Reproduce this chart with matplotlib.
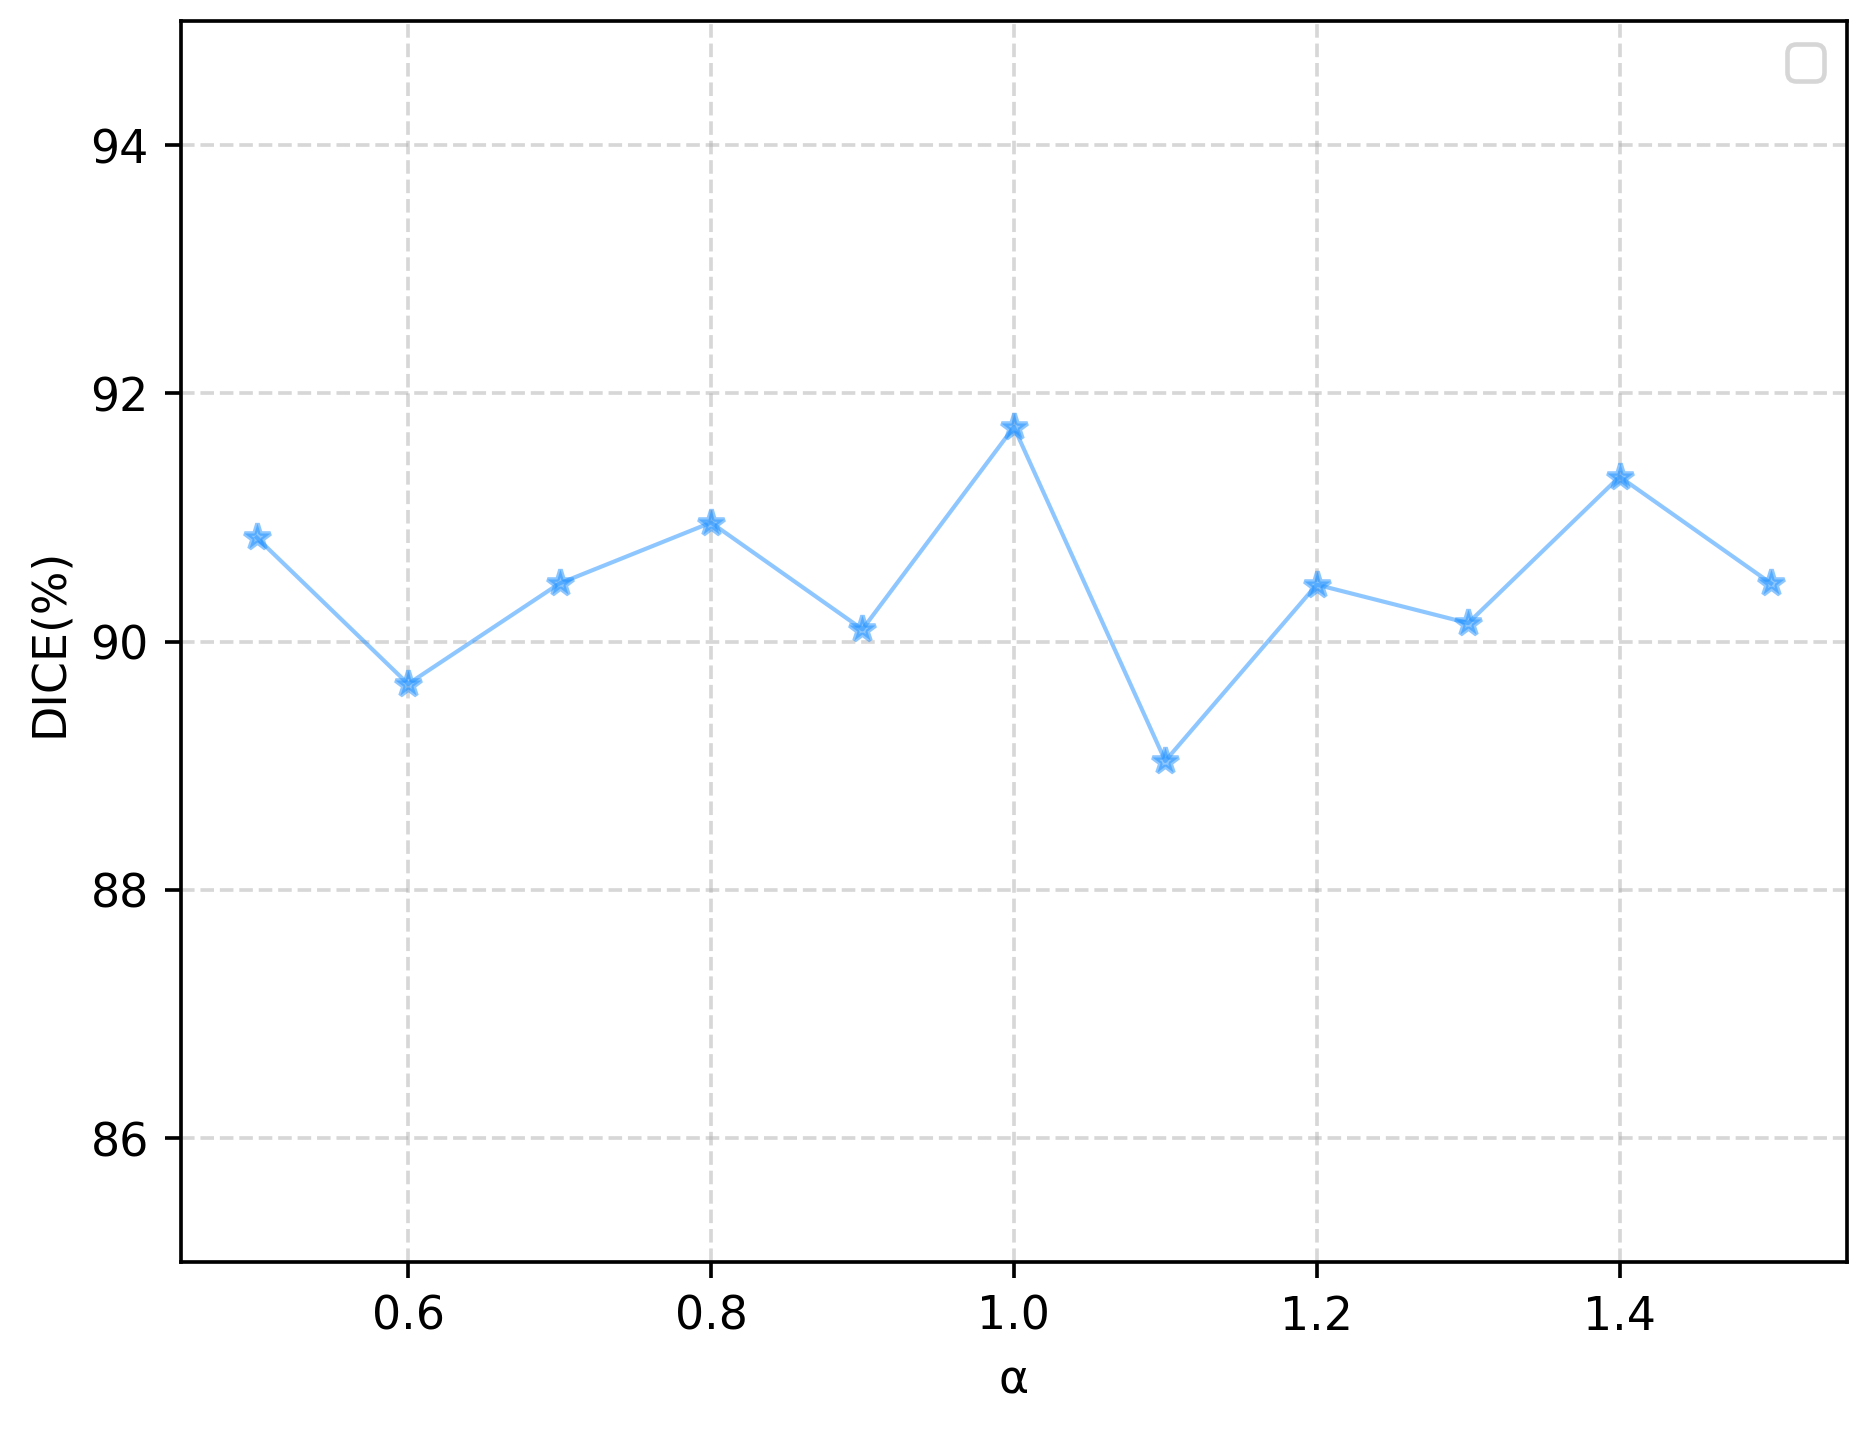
import matplotlib
matplotlib.use('Agg')
import matplotlib.pyplot as plt

# alpha sweep vs dice score
alphas = [0.5, 0.6, 0.7, 0.8, 0.9, 1.0, 1.1, 1.2, 1.3, 1.4, 1.5]
dice = [90.84, 89.66, 90.47, 90.96, 90.10, 91.73, 89.04, 90.46, 90.15, 91.33, 90.47]
y_ticks = [86, 88, 90, 92, 94]

dpi = 330
fig = plt.figure(figsize=(1865.4 / dpi, 1433.4 / dpi), dpi=dpi)
ax = fig.add_axes([0.097, 0.119, 0.893, 0.866])

ax.plot(alphas, dice, marker='*', color='#1E90FF', alpha=0.5, linewidth=0.9)
ax.set_ylim(85, 95)
ax.set_yticks(y_ticks)
ax.set_xlabel('α')
ax.set_ylabel('DICE(%)')
ax.grid(True, linestyle='--', alpha=0.5)
ax.legend()

fig.savefig('out.png', dpi=dpi)
